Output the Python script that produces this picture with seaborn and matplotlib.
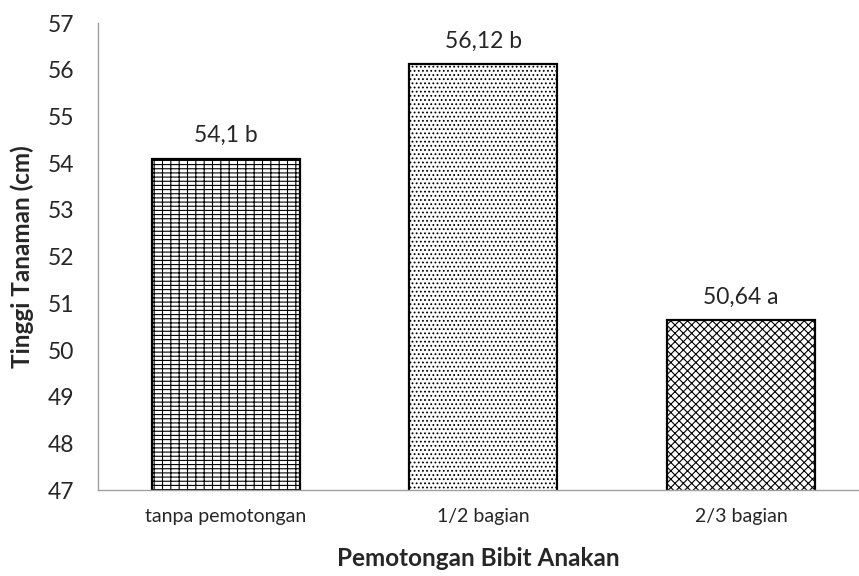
import matplotlib
matplotlib.use("Agg")
import matplotlib.pyplot as plt
import seaborn as sns
import pandas as pd

# data
categories = ["tanpa pemotongan", "1/2 bagian", "2/3 bagian"]
heights = [54.1, 56.12, 50.64]
letters = ["b", "b", "a"]
hatches = ["++--", "....", "xxxx"]

df = pd.DataFrame({"perlakuan": categories, "tinggi": heights})

sns.set_style("white")
plt.rcParams["font.family"] = ["Lato", "DejaVu Sans"]
plt.rcParams["hatch.linewidth"] = 0.8

fig = plt.figure(figsize=(8.59, 5.76), dpi=100)
ax = fig.add_axes([0.114, 0.149, 0.885, 0.811])

sns.barplot(data=df, x="perlakuan", y="tinggi", color="white",
            edgecolor="black", linewidth=1.6, width=0.574, ax=ax)

for bar, h in zip(ax.patches, hatches):
    bar.set_hatch(h)

for i, (v, lt) in enumerate(zip(heights, letters)):
    label = f"{v:g}".replace(".", ",") + " " + lt
    ax.annotate(label, (i, v), xytext=(0, 9), textcoords="offset points",
                ha="center", va="bottom", fontsize=16.5, color="#262626")

ax.set_ylim(47, 57)
ax.set_yticks(range(47, 58))
ax.tick_params(axis="y", labelsize=16.5, length=0, pad=17, labelcolor="#262626")
ax.tick_params(axis="x", labelsize=14, length=0, pad=13, labelcolor="#262626")
ax.set_xlim(-0.495, 2.454)

sns.despine(ax=ax, top=True, right=True)
for s in ["left", "bottom"]:
    ax.spines[s].set_color("#a0a0a0")
    ax.spines[s].set_linewidth(1.0)

ax.set_xlabel("Pemotongan Bibit Anakan", fontsize=17.5, fontweight="bold", labelpad=16)
ax.set_ylabel("Tinggi Tanaman (cm)", fontsize=17.5, fontweight="bold", labelpad=10)

fig.savefig("out.png", dpi=100)
